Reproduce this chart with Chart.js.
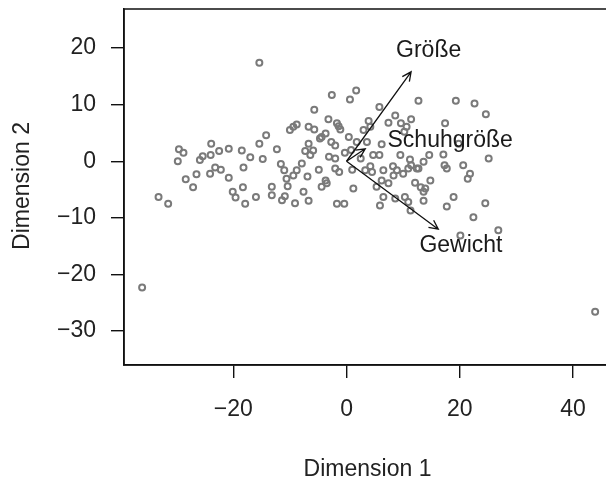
<!DOCTYPE html>
<html>
<head>
<meta charset="utf-8">
<script src="https://cdn.jsdelivr.net/npm/chart.js@4"></script>
<style>
  html, body { margin: 0; padding: 0; background: #fff; overflow: hidden; }
  #wrap { width: 606px; height: 484px; overflow: hidden; }
</style>
</head>
<body>
<div id="wrap"><canvas id="biplot" width="620" height="484"></canvas></div>
<script>
// Punkte (Dimension 1 / Dimension 2)
const dim1 = [
  -33.2, -31.5, -29.6, -28.8, -29.8, -28.4, -27.1, -26.5, -25.9, -25.4, -23.9, -24.0, -24.1, -23.2, -22.2, -22.5,
  -20.8, -20.8, -18.5, -17.0, -18.2, -18.3, -20.1, -19.6, -17.9, -16.0, -15.4,
  -14.2, -14.8, -12.3, -13.2, -13.2, -11.6, -11.0, -11.4, -10.9, -10.6, -10.4, -10.0, -9.4, -8.8, -9.1, -9.4,
  -8.8, -7.9, -7.6, -6.9, -7.3, -6.7, -6.4, -5.9, -6.7, -5.7, -5.7, -6.7, -4.9, -4.4, -3.7, -4.7, -3.7, -3.2,
  -2.6, -3.1, -2.7, -2.0, -2.0, -1.3, -1.7, -0.4, -1.7, -1.1, -2.0, -0.3, 0.6, 0.4, 1.2,
  1.7, -15.4, -36.1, 43.9, -1.4, -4.4, -3.5,
  5.8, 12.7, 8.6, 7.4, 3.9, 4.2, 3.0, 9.6, 10.6, 11.4, 10.2, 17.4, 1.8, 3.6, 5.8, 6.2, 9.5, 11.2, 11.4, 14.6,
  13.6, 12.7, 17.1, 17.3, 4.2, 4.5, 6.5, 8.2, 8.9, 10.0, 8.3, 10.9, 6.2, 7.4, 5.3, 14.8, 12.1, 13.1, 13.6,
  6.5, 5.9, 10.3, 10.9, 13.6, 11.3, 17.7,
  19.3, 22.6, 24.6, 25.1, 20.6, 21.8, 21.4, 17.7, 18.9, 24.5, 22.4, 26.8, 20.1, 19.8,
  0.8, 2.5, 1.0, 3.3, 4.7, 12.4, 13.9, 8.6
];
const dim2 = [
  -6.3, -7.5, 2.1, 1.5, 0.0, -3.2, -4.6, -2.3, 0.2, 0.9, 3.1, 1.1, -2.2, -1.1, -1.5, 1.8,
  2.2, -2.9, 1.9, 0.7, -1.1, -4.6, -5.4, -6.4, -7.5, -6.3, 3.1,
  4.6, 0.4, 2.1, -4.5, -6.0, -0.5, -1.6, -6.9, -6.2, -3.1, -4.4, 5.5, 6.1, 6.5, -7.4, -2.5,
  -1.6, -0.4, -5.4, -2.7, 1.8, 3.1, 1.1, 1.9, 6.1, 5.6, 9.1, -7.0, -1.5, -4.5, -3.4, 4.0, 4.9, 7.4,
  11.7, 0.8, 3.4, 0.5, -1.3, -1.9, -7.5, -7.5, 6.7, 5.6, 2.8, 1.5, 10.9, 4.3, -4.8,
  12.5, 17.4, -22.3, -26.6, 6.2, 4.3, -3.9,
  9.6, 10.7, 8.1, 6.8, 7.1, 6.1, 5.5, 6.7, 6.1, 7.4, 5.2, 6.7, 3.4, 3.4, 1.1, 3.0, 1.1, 0.3, -0.7, 1.1,
  -0.1, -1.3, 1.2, -0.7, -0.9, -1.9, -1.6, -0.9, -1.6, -2.2, -2.5, -1.3, -3.4, -3.9, -4.5, -3.4, -3.8, -4.6, -5.4,
  -6.3, -7.8, -6.3, -7.2, -7.0, -8.7, -8.0,
  10.7, 10.2, 8.3, 0.5, -0.7, -2.2, -3.1, -1.3, -6.3, -7.4, -9.9, -12.2, -13.1, 3.1,
  2.0, 0.5, -1.5, -1.6, 1.1, -1.3, -4.8, -6.6
];

// Variablenpfeile
const loadNames = ['Größe', 'Schuhgröße', 'Gewicht'];
const loadX = [11.4, 3.3, 16.2];
const loadY = [15.8, 2.2, -12.0];
const labelX = [14.5, 18.3, 20.2];
const labelY = [19.6, 3.7, -15.0];

const xTicks = [-20, 0, 20, 40];
const yTicks = [-30, -20, -10, 0, 10, 20];

const fontFam = '"Liberation Sans", Arial, Helvetica, sans-serif';
const fontSize = 23;
const minus = v => (v < 0 ? '\u2212' + Math.abs(v) : '' + v);

const biplotExtras = {
  id: 'biplotExtras',
  afterDatasetsDraw(chart) {
    const ctx = chart.ctx;
    const xs = chart.scales.x, ys = chart.scales.y;
    const ca = chart.chartArea;
    ctx.save();
    // Rahmen
    ctx.strokeStyle = '#111';
    ctx.lineWidth = 1.5;
    ctx.strokeRect(ca.left, ca.top, ca.right - ca.left, ca.bottom - ca.top);

    // Pfeile
    const x0 = xs.getPixelForValue(0), y0 = ys.getPixelForValue(0);
    ctx.lineWidth = 1.3;
    ctx.strokeStyle = '#111';
    loadX.forEach((lx, i) => {
      const x1 = xs.getPixelForValue(lx), y1 = ys.getPixelForValue(loadY[i]);
      const a = Math.atan2(y1 - y0, x1 - x0);
      const h = 10;
      ctx.beginPath();
      ctx.moveTo(x0, y0);
      ctx.lineTo(x1, y1);
      ctx.moveTo(x1 - h * Math.cos(a - 0.45), y1 - h * Math.sin(a - 0.45));
      ctx.lineTo(x1, y1);
      ctx.lineTo(x1 - h * Math.cos(a + 0.45), y1 - h * Math.sin(a + 0.45));
      ctx.stroke();
    });

    // Beschriftungen
    ctx.fillStyle = '#1a1a1a';
    ctx.font = fontSize + 'px ' + fontFam;
    ctx.textAlign = 'center';
    ctx.textBaseline = 'middle';
    loadNames.forEach((name, i) => {
      ctx.fillText(name, xs.getPixelForValue(labelX[i]), ys.getPixelForValue(labelY[i]));
    });

    // y-Achsentitel
    ctx.save();
    ctx.translate(23, 186);
    ctx.rotate(-Math.PI / 2);
    ctx.fillStyle = '#222';
    ctx.fillText('Dimension 2', 0, 0);
    ctx.restore();
    ctx.restore();
  }
};

new Chart(document.getElementById('biplot'), {
  type: 'scatter',
  data: {
    datasets: [{
      data: dim1.map((x, i) => ({ x: x, y: dim2[i] })),
      pointRadius: 3,
      pointBorderWidth: 2,
      pointBorderColor: '#7a7a7a',
      pointBackgroundColor: 'rgba(255,255,255,0)',
    }]
  },
  options: {
    responsive: false,
    animation: false,
    layout: { padding: { top: 9, right: 9 } },
    plugins: { legend: { display: false }, tooltip: { enabled: false } },
    scales: {
      x: {
        type: 'linear',
        min: -39.3,
        max: 46.7,
        afterBuildTicks: s => { s.ticks = xTicks.map(v => ({ value: v })); },
        afterFit: s => { s.height = 119; s.paddingLeft = 0; s.paddingRight = 0; },
        grid: { drawOnChartArea: false, drawTicks: true, tickLength: 13, color: '#111', lineWidth: 1.4 },
        border: { display: true, color: '#111', width: 1.5 },
        ticks: { color: '#222', padding: 18, maxRotation: 0, font: { size: fontSize, family: fontFam }, callback: v => minus(v) },
        title: { display: true, text: 'Dimension 1', color: '#222', font: { size: fontSize, family: fontFam }, padding: { bottom: 1 } }
      },
      y: {
        type: 'linear',
        min: -36,
        max: 26.9,
        afterBuildTicks: s => { s.ticks = yTicks.map(v => ({ value: v })); },
        afterFit: s => { s.width = 124; s.paddingTop = 0; s.paddingBottom = 0; },
        grid: { drawOnChartArea: false, drawTicks: true, tickLength: 13, color: '#111', lineWidth: 1.4 },
        border: { display: true, color: '#111', width: 1.5 },
        ticks: { color: '#222', padding: 15, font: { size: fontSize, family: fontFam }, callback: v => minus(v) }
      }
    }
  },
  plugins: [biplotExtras]
});
</script>
</body>
</html>
